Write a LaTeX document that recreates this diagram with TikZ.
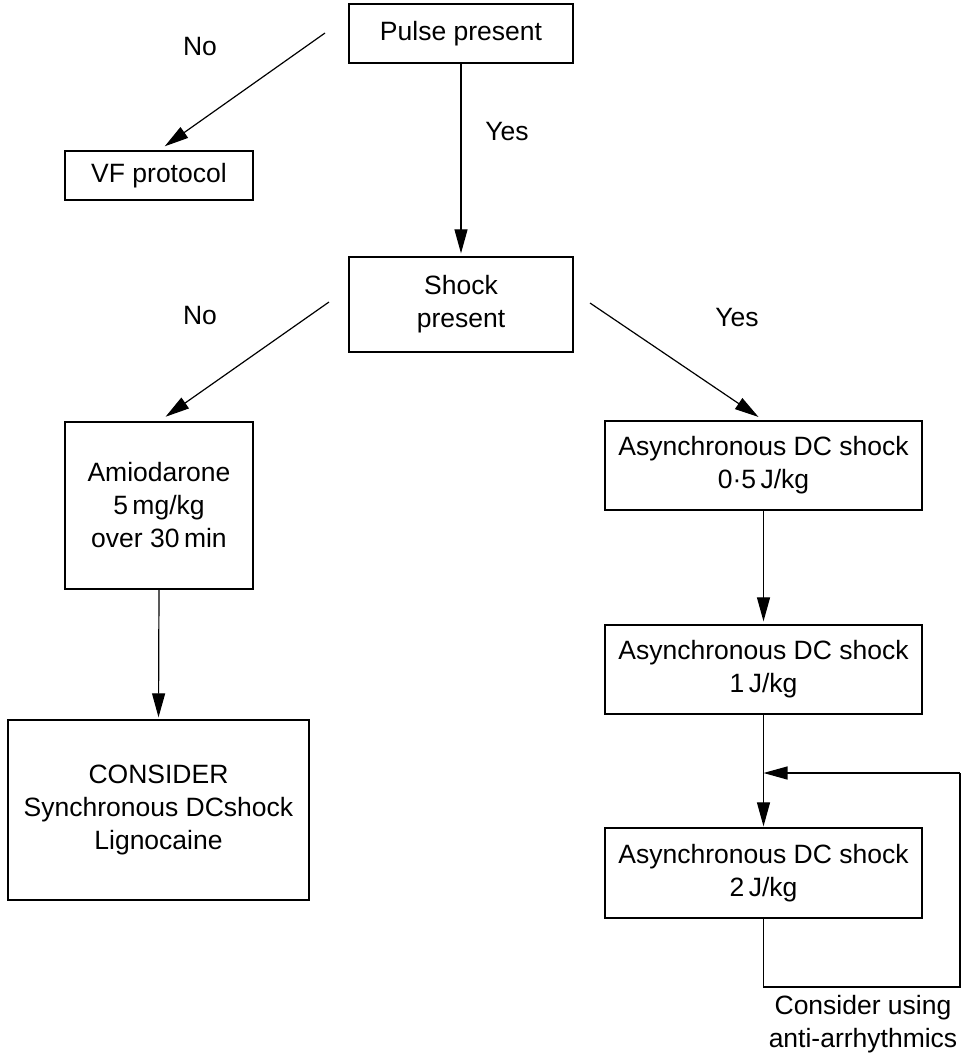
\documentclass[tikz,border=0pt]{standalone}
\usepackage{fontspec}
\setmainfont{Liberation Sans}
\usetikzlibrary{arrows.meta}
\tikzset{
  box/.style={draw, line width=1.3pt, align=center, inner sep=0pt},
  txt/.style={align=center, inner sep=0pt},
  arr/.style={line width=1.2pt, -{Triangle[length=24pt,width=13pt]}},
  conn/.style={line width=1.2pt},
}
\begin{document}
\begin{tikzpicture}[x=1pt,y=-1pt,font={\fontsize{26.5}{33}\selectfont}]
\useasboundingbox (0,0) rectangle (962,1058);

% boxes
\node[box, minimum width=224pt, minimum height=59pt] (pulse) at (461,33.5) {Pulse present};
\node[box, minimum width=188pt, minimum height=49pt] (vf) at (159,175.5) {VF protocol};
\node[box, minimum width=224pt, minimum height=95pt] (shock) at (461,304.5) {Shock\\present};
\node[box, minimum width=188pt, minimum height=167pt] (amio) at (159,505.5) {Amiodarone\\5\,mg/kg\\over 30\,min};
\node[box, minimum width=301pt, minimum height=180pt] (cons) at (158.5,810) {CONSIDER\\Synchronous DCshock\\Lignocaine};
\node[box, minimum width=317pt, minimum height=89pt] (dc1) at (763.5,465.5) {Asynchronous DC shock\\0·5\,J/kg};
\node[box, minimum width=317pt, minimum height=89pt] (dc2) at (763.5,669.5) {Asynchronous DC shock\\1\,J/kg};
\node[box, minimum width=317pt, minimum height=90pt] (dc3) at (763.5,873) {Asynchronous DC shock\\2\,J/kg};

% labels
\node[txt] (noA) at (200,47) {No};
\node[txt] (yesA) at (507,132) {Yes};
\node[txt] (noB) at (200,316) {No};
\node[txt] (yesB) at (737,318) {Yes};
\node[txt] (anti) at (863,1024) {Consider using\\anti-arrhythmics};

% free ends of the diagonal connectors and the loop corners
\coordinate (sA) at (325,33);
\coordinate (sB) at (329,302);
\coordinate (sC) at (590,303);
\coordinate (l1) at (763.5,987);
\coordinate (l2) at (960,987);
\coordinate (l3) at (960,773);
\coordinate (l4) at (763.5,773);

% connectors
\draw[arr, shorten >=7pt] (sA) -- (vf.north);
\draw[arr, shorten >=3pt] (pulse.south) -- (shock.north);
\draw[arr, shorten >=8pt] (sB) -- (amio.north);
\draw[arr, shorten >=6pt] (sC) -- (dc1.north);
\draw[arr, shorten >=3pt] (dc1.south) -- (dc2.north);
\draw[arr, shorten >=2pt] (amio.south) -- (cons.north);
\draw[arr, shorten >=1pt] (dc2.south) -- (dc3.north);
\draw[conn] (dc3.south) -- (l1) -- (l2) -- (l3);
\draw[arr] (l3) -- (l4);
\end{tikzpicture}
\end{document}
